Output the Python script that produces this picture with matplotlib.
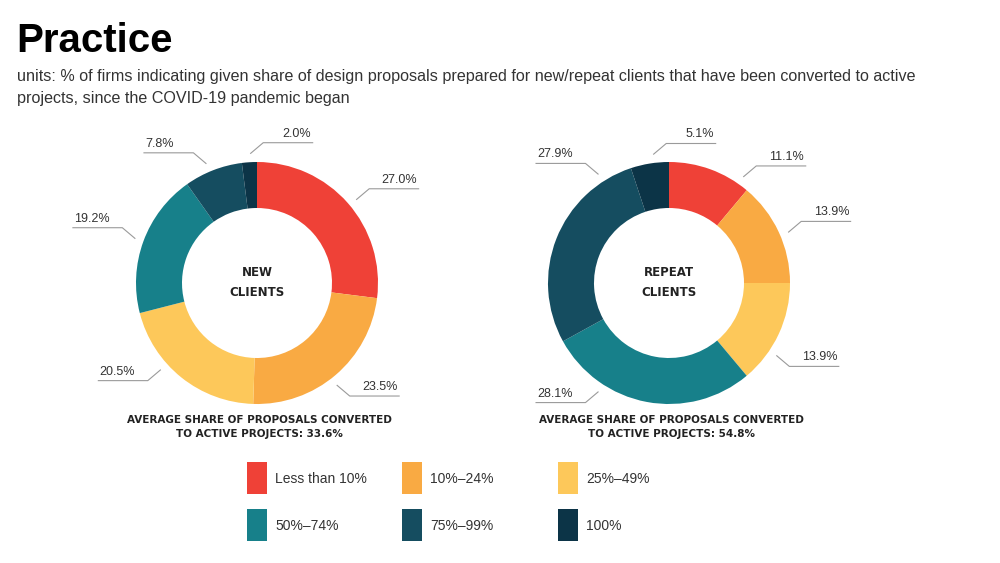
import numpy as np
import matplotlib.pyplot as plt
from matplotlib.patches import Rectangle

categories = ['Less than 10%', '10%–24%', '25%–49%', '50%–74%', '75%–99%', '100%']
new_clients = [27.0, 23.5, 20.5, 19.2, 7.8, 2.0]
repeat_clients = [11.1, 13.9, 13.9, 28.1, 27.9, 5.1]
avg_new = 33.6
avg_repeat = 54.8

colors = ['#EF4137', '#F9AA43', '#FDC85A', '#17808A', '#154D60', '#0C3447']

# where the leader lines leave the ring (degrees, 0 = right, ccw)
lab_ang_new = [40, -52, -138, 160, 113, 93]
lab_ang_repeat = [55, 23, -34, -123, 123, 97]

W, H = 1000, 563
fig = plt.figure(figsize=(10, 5.63), dpi=100)
ax = fig.add_axes([0, 0, 1, 1])


def Y(y):
    # pixel row (from top) -> data y
    return H - y


R_OUT, R_IN = 121, 75


def donut(cx, cy, values, angles, name, avg):
    ax.pie(values, colors=colors, startangle=90, counterclock=False,
           center=(cx, Y(cy)), radius=R_OUT, frame=True,
           wedgeprops=dict(width=R_OUT - R_IN, linewidth=0))

    for v, a in zip(values, angles):
        t = np.deg2rad(a)
        x0 = cx + 1.07 * R_OUT * np.cos(t)
        y0 = Y(cy) + 1.07 * R_OUT * np.sin(t)
        side = 1 if np.cos(t) > -0.2 else -1
        up = 1 if np.sin(t) > 0 else -1
        x1, y1 = x0 + 13 * side, y0 + 11 * up
        x2 = x1 + 50 * side
        ax.plot([x0, x1, x2], [y0, y1, y1], color='#9a9a9a', lw=0.8,
                solid_capstyle='butt')
        ax.text(x2 - 2 * side, y1 + 3, f'{v:.1f}%',
                ha='right' if side > 0 else 'left', va='bottom',
                fontsize=9, family='Liberation Sans', color='#333333')

    words = name.split()
    ax.text(cx, Y(cy - 11), words[0], ha='center', va='center',
            fontsize=8.5, fontweight='bold', color='#222222')
    ax.text(cx, Y(cy + 10), words[1], ha='center', va='center',
            fontsize=8.5, fontweight='bold', color='#222222')

    ax.text(cx + 2, Y(420), 'AVERAGE SHARE OF PROPOSALS CONVERTED',
            ha='center', va='center', fontsize=7.5, fontweight='bold',
            color='#222222')
    ax.text(cx + 2, Y(434), f'TO ACTIVE PROJECTS: {avg}%',
            ha='center', va='center', fontsize=7.5, fontweight='bold',
            color='#222222')


donut(257, 283, new_clients, lab_ang_new, 'NEW CLIENTS', avg_new)
donut(669, 283, repeat_clients, lab_ang_repeat, 'REPEAT CLIENTS', avg_repeat)

# legend
col_x = [247, 402, 558]
row_y = [462, 509]
for i, lab in enumerate(categories):
    x = col_x[i % 3]
    y = row_y[i // 3]
    ax.add_patch(Rectangle((x, Y(y + 32)), 20, 32, color=colors[i], lw=0))
    ax.text(x + 28, Y(y + 17), lab, ha='left', va='center', fontsize=10,
            family='Liberation Sans', color='#333333')

ax.text(16, Y(52), 'Practice', ha='left', va='baseline', fontsize=29,
        fontweight='bold', family='Liberation Sans', color='black')
ax.text(17, Y(81), 'units: % of firms indicating given share of design proposals '
        'prepared for new/repeat clients that have been converted to active',
        ha='left', va='baseline', fontsize=11.6, family='Liberation Sans',
        color='#333333')
ax.text(17, Y(103), 'projects, since the COVID-19 pandemic began',
        ha='left', va='baseline', fontsize=11.6, family='Liberation Sans',
        color='#333333')

ax.set_xlim(0, W)
ax.set_ylim(0, H)
ax.set_aspect('auto')
ax.axis('off')

fig.savefig('out.png', dpi=100, facecolor='white')
